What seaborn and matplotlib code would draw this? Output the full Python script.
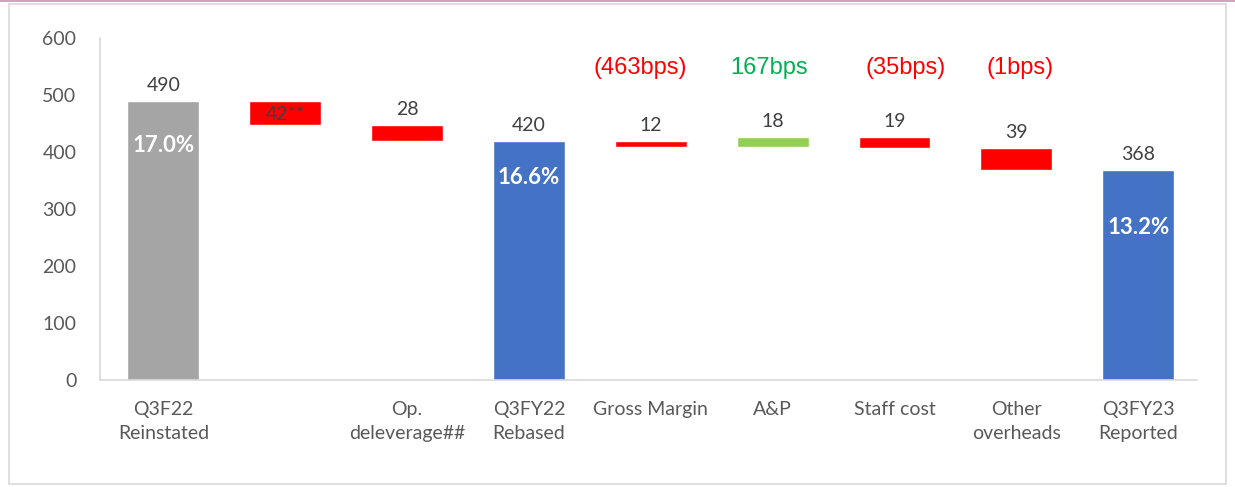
import matplotlib
matplotlib.use("Agg")
import matplotlib.pyplot as plt
import numpy as np
import pandas as pd
import seaborn as sns
from matplotlib.patches import Rectangle

# chart data
categories = ["Q3F22\nReinstated", " ", "Op.\ndeleverage##", "Q3FY22\nRebased",
              "Gross Margin", "A&P", "Staff cost", "Other\noverheads", "Q3FY23\nReported"]
changes = [490, -42, -28, 420, -12, 18, -19, -39, 368]
is_total = [True, False, False, True, False, False, False, False, True]
value_labels = ["490", "42**", "28", "420", "12", "18", "19", "39", "368"]
margin_labels = {0: "17.0%", 3: "16.6%", 8: "13.2%"}
bps_labels = {4: "(463bps)", 5: "167bps", 6: "(35bps)", 7: "(1bps)"}
bar_colors = ["#A5A5A5", "#FF0000", "#FF0000", "#4472C4", "#FF0000",
              "#92D050", "#FF0000", "#FF0000", "#4472C4"]
bps_colors = {4: "#FF0000", 5: "#00B050", 6: "#FF0000", 7: "#FF0000"}

# waterfall geometry from the running total
lows, highs = [], []
running = 0
for chg, tot in zip(changes, is_total):
    if tot:
        running = chg
        lows.append(0); highs.append(chg)
    else:
        new = running + chg
        lows.append(min(running, new)); highs.append(max(running, new))
        running = new
df = pd.DataFrame({"category": categories, "low": lows, "high": highs})
df["height"] = df["high"] - df["low"]

sns.set_theme(style="white")
plt.rcParams["font.family"] = ["Lato", "DejaVu Sans"]
text_col = "#404040"

fig, ax = plt.subplots(figsize=(12.35, 4.87), dpi=100)
fig.subplots_adjust(left=0.081, right=0.969, top=0.922, bottom=0.22)
sns.barplot(data=df, x="category", y="height", hue="category",
            palette=dict(zip(categories, bar_colors)), legend=False,
            width=0.59, saturation=1, ax=ax)
for patch, low in zip(ax.patches, df["low"]):
    patch.set_y(low)

ax.set_ylim(0, 600)
ax.set_yticks(range(0, 601, 100))
ax.set_xlim(-0.52, 8.48)
ax.set_xlabel(""); ax.set_ylabel("")
ax.set_xticks(range(len(categories)))
ax.set_xticklabels(categories, fontsize=14, color="#595959", linespacing=1.5)
ax.tick_params(axis="y", labelsize=14, labelcolor="#595959", length=0, pad=17)
ax.tick_params(axis="x", length=0, pad=15)
for side in ["top", "right"]:
    ax.spines[side].set_visible(False)
for side in ["left", "bottom"]:
    ax.spines[side].set_color("#D9D9D9")
    ax.spines[side].set_linewidth(1.2)

# label placement inside the totals (drop below bar top, data units)
margin_drop = {0: 78, 3: 64, 8: 101}
bps_shift = {4: -0.09, 5: -0.03, 6: 0.09, 7: 0.03}

for i, row in df.iterrows():
    if i == 1:
        ax.text(i, (row["low"] + row["high"]) / 2 - 3, value_labels[i], ha="center",
                va="center", fontsize=14, color=text_col)
    else:
        ax.text(i, row["high"] + 27, value_labels[i], ha="center", va="center",
                fontsize=14, color=text_col)
    if i in margin_labels:
        ax.text(i, row["high"] - margin_drop[i], margin_labels[i], ha="center",
                va="center", fontsize=16, color="white", fontweight="bold")
    if i in bps_labels:
        ax.text(i + bps_shift[i], 548, bps_labels[i], ha="center", va="center",
                fontsize=17, color=bps_colors[i], family=["Liberation Sans", "DejaVu Sans"])

# outer frame like the slide
fig.patches.append(Rectangle((0.007, 0.006), 0.986, 0.985, transform=fig.transFigure,
                             fill=False, edgecolor="#D9D9D9", linewidth=1.2))
fig.patches.append(Rectangle((0.0, 0.995), 1.0, 0.005, transform=fig.transFigure,
                             facecolor="#D9A0BC", edgecolor="none"))

fig.savefig("out.png", dpi=100)
